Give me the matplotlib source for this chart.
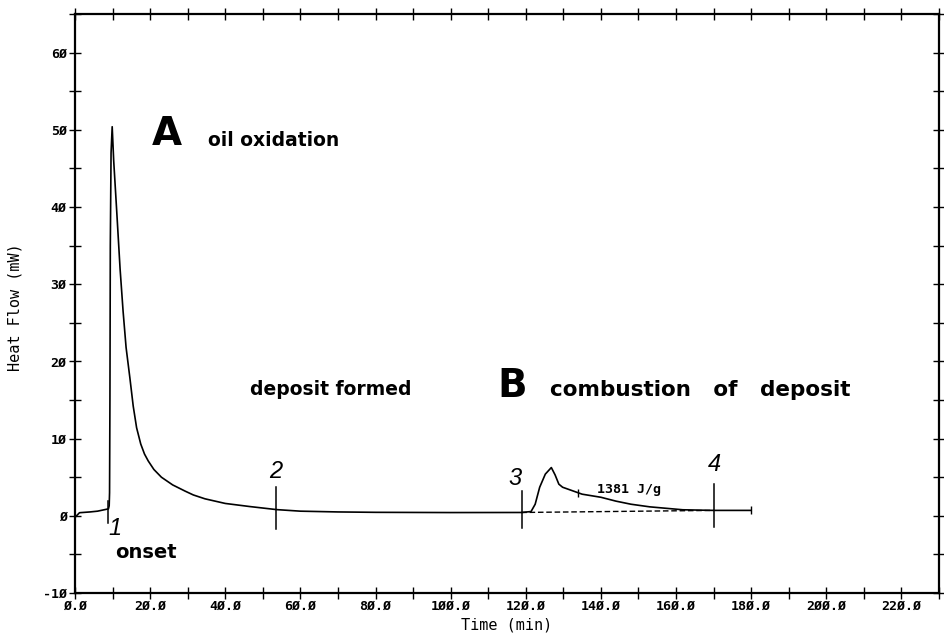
import numpy as np
import matplotlib
matplotlib.use('Agg')
import matplotlib.pyplot as plt
from matplotlib.ticker import MultipleLocator, FixedLocator, FixedFormatter

# DSC trace
time = [0.0, 1.2, 4.0, 6.0, 8.9, 9.1, 9.2, 9.3, 9.4, 9.6, 9.9, 10.3, 11.1, 12.0,
        12.8, 13.6, 14.6, 15.5, 16.4, 17.5, 18.5, 19.5, 21.0, 23.0, 26.0, 29.3,
        31.5, 34.6, 40.0, 46.5, 53.7, 60.0, 70.0, 80.0,
        100.0, 118.8, 121.4, 122.5, 123.7, 125.2, 126.8, 127.8, 128.8, 129.8,
        135.0, 140.0, 144.0, 148.0, 153.0, 161.8, 170.0, 180.0]
heat = [-0.2, 0.4, 0.5, 0.6, 0.9, 1.3, 3.0, 15.0, 35.0, 47.0, 50.4, 46.0, 39.5, 32.0,
        26.5, 21.8, 17.9, 14.2, 11.4, 9.3, 8.0, 7.1, 6.0, 5.0, 4.0, 3.2,
        2.7, 2.2, 1.6, 1.2, 0.8, 0.6, 0.5, 0.45,
        0.42, 0.43, 0.55, 1.5, 3.7, 5.4, 6.25, 5.3, 4.1, 3.7,
        2.8, 2.4, 1.9, 1.5, 1.16, 0.78, 0.7, 0.7]

# integration baseline under peak B
base_t = [118.8, 170.0]
base_y = [0.43, 0.7]
base_marks = [133.8, 180.0]

# numbered event markers
event_t = [8.9, 53.6, 118.9, 170.0]
event_lo = [-0.9, -1.7, -1.55, -1.4]
event_hi = [1.9, 3.7, 3.2, 4.1]
event_lbl = ['1', '2', '3', '4']
event_lbl_t = [10.6, 53.3, 117.0, 170.1]
event_lbl_y = [-1.6, 5.8, 4.85, 6.6]

xticks = [0, 20, 40, 60, 80, 100, 120, 140, 160, 180, 200, 220]
yticks = [-10, 0, 10, 20, 30, 40, 50, 60]
xlabels = [('%.1f' % v).replace('0', '\u00d8') for v in xticks]
ylabels = [str(v).replace('0', '\u00d8') for v in yticks]

fig = plt.figure(figsize=(9.45, 6.37), dpi=100)
ax = fig.add_axes([75/945, 1-593/637, 864/945, 579/637])

ax.plot(time, heat, color='black', lw=1.2)
ax.plot(base_t, base_y, color='black', lw=1.0, ls=(0, (4, 2)))
ax.plot(base_marks, np.interp(base_marks, time, heat), ls='none', marker='|',
        ms=6, mew=1, color='black')

for t, lo, hi in zip(event_t, event_lo, event_hi):
    ax.plot([t, t], [lo, hi], color='black', lw=1.1)
for t, y, s in zip(event_lbl_t, event_lbl_y, event_lbl):
    ax.text(t, y, s, fontsize=17, style='italic', family='Liberation Sans',
            ha='center', va='center')

bold = dict(family='DejaVu Sans', weight='bold', color='black')
ax.text(24.5, 49.5, 'A', fontsize=28, ha='center', va='center', **bold)
ax.text(35.5, 48.6, 'oil oxidation', fontsize=13.5, ha='left', va='center', **bold)
ax.text(68.1, 16.4, 'deposit formed', fontsize=13.5, ha='center', va='center', **bold)
ax.text(116.5, 16.8, 'B', fontsize=28, ha='center', va='center', **bold)
ax.text(126.5, 16.3, 'combustion   of   deposit', fontsize=15.5, ha='left', va='center', **bold)
ax.text(10.8, -4.8, 'onset', fontsize=14, ha='left', va='center', **bold)
ax.text(139.0, 3.4, '1381 J/g', fontsize=9.5, family='DejaVu Sans Mono',
        weight='bold', ha='left', va='center')

ax.set_xlim(0, 230)
ax.set_ylim(-10, 65)
ax.xaxis.set_major_locator(FixedLocator(xticks))
ax.xaxis.set_major_formatter(FixedFormatter(xlabels))
ax.yaxis.set_major_locator(FixedLocator(yticks))
ax.yaxis.set_major_formatter(FixedFormatter(ylabels))
ax.xaxis.set_minor_locator(MultipleLocator(10))
ax.yaxis.set_minor_locator(MultipleLocator(5))
ax.tick_params(which='both', direction='inout', length=8, width=1,
               top=True, right=True, labeltop=False, labelright=False)
ax.tick_params(axis='x', pad=1)
ax.tick_params(axis='y', pad=2)
for lab in ax.get_xticklabels() + ax.get_yticklabels():
    lab.set_family('DejaVu Sans Mono')
    lab.set_weight('bold')
    lab.set_fontsize(9.5)
for sp in ax.spines.values():
    sp.set_linewidth(1.6)

ax.set_xlabel('Time (min)', family='DejaVu Sans Mono', fontsize=11, labelpad=3)
ax.set_ylabel('Heat Flow (mW)', family='DejaVu Sans Mono', fontsize=11)
ax.yaxis.set_label_coords(-0.061, 0.494)

fig.savefig('out.png', dpi=100)
